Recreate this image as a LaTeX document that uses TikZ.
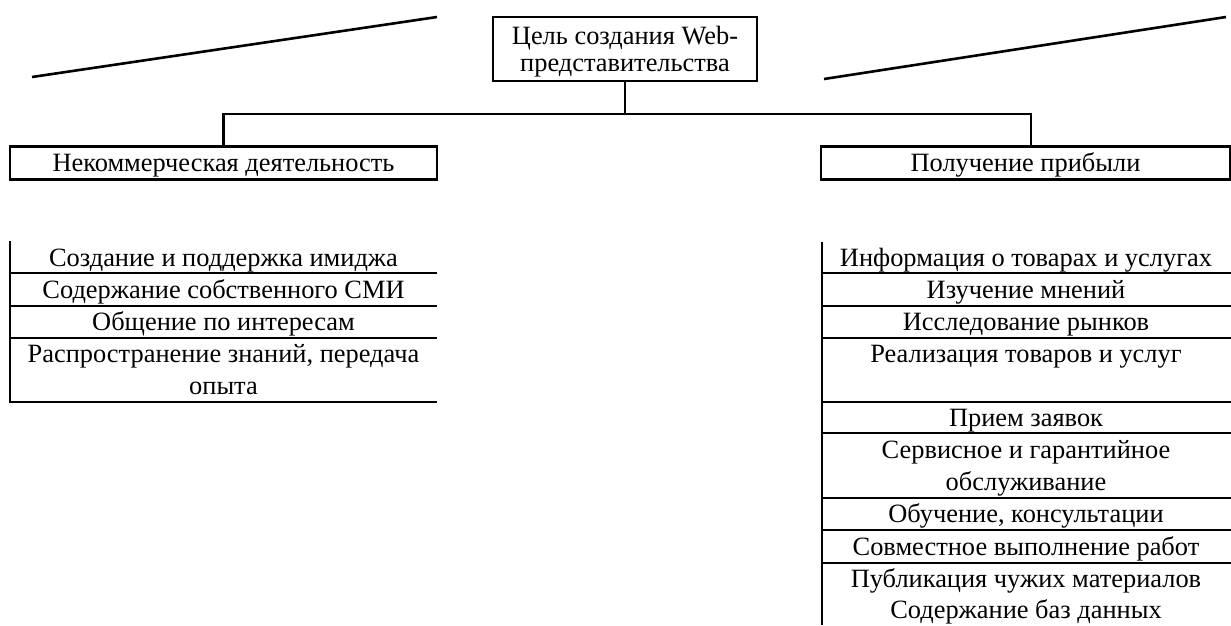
\documentclass[tikz,border=0pt]{standalone}
\usepackage{fontspec}
\setmainfont{Liberation Serif}
\begin{document}
\begin{tikzpicture}[x=1pt,y=-1pt,
  every node/.style={font=\fontsize{26.4}{32}\selectfont},
  box/.style={draw, line width=2.4pt, inner sep=0pt, anchor=center},
  txt/.style={inner sep=0pt, anchor=base},
  conn/.style={line width=2.4pt},
  sep/.style={line width=2.2pt},
  slant/.style={line width=2.6pt}]
\useasboundingbox[fill=white] (0,0) rectangle (1231,625);

% top box
\node[box, minimum width=264pt, minimum height=64pt, align=center,
      font=\fontsize{26.4}{27}\selectfont] (top) at (625,49) {};
\node[inner sep=0pt, align=center, font=\fontsize{26.4}{27}\selectfont] (toptxt) at (625,52)
  {Цель создания Web-\\представительства};

% level boxes
\node[box, minimum width=427pt, minimum height=33pt] (left) at (223.5,163) {};
\node[txt] (lefttxt) at (223.5,171) {Некоммерческая деятельность};
\node[box, minimum width=409pt, minimum height=33pt] (right) at (1025.5,163) {};
\node[txt] (righttxt) at (1025.5,171) {Получение прибыли};

% connectors
\coordinate (j) at (625,114);
\coordinate (rt) at (1031,146.5);
\draw[conn] (top.south) -- (j);
\draw[conn] (j) -| (left.north);
\draw[conn] (j) -| (rt);

% slanted lines
\coordinate (l1) at (32,77);
\coordinate (l2) at (437,17);
\coordinate (r1) at (824,79);
\coordinate (r2) at (1226,17);
\draw[slant] (l1) -- (l2);
\draw[slant] (r1) -- (r2);

% left list
\coordinate (lt) at (10,241);
\coordinate (lb) at (10,403);
\draw[sep] (lt) -- (lb);
\foreach \y in {273,306,338,402} \draw[sep] (10,\y) -- (437,\y);
\node[txt] (a1) at (223.5,266) {Создание и поддержка имиджа};
\node[txt] (a2) at (223.5,298) {Содержание собственного СМИ};
\node[txt] (a3) at (223.5,330) {Общение по интересам};
\node[txt] (a4) at (223.5,362) {Распространение знаний, передача};
\node[txt] (a5) at (223.5,394) {опыта};

% right list
\coordinate (rtp) at (822,242);
\coordinate (rbt) at (822,625);
\draw[sep] (rtp) -- (rbt);
\foreach \y in {273,306,338,402,433,498,530,563} \draw[sep] (822,\y) -- (1231,\y);
\node[txt] (b1) at (1026,266) {Информация о товарах и услугах};
\node[txt] (b2) at (1026,298) {Изучение мнений};
\node[txt] (b3) at (1026,330) {Исследование рынков};
\node[txt] (b4) at (1026,362) {Реализация товаров и услуг};
\node[txt] (b5) at (1026,426) {Прием заявок};
\node[txt] (b6) at (1026,458) {Сервисное и гарантийное};
\node[txt] (b7) at (1026,490) {обслуживание};
\node[txt] (b8) at (1026,522) {Обучение, консультации};
\node[txt] (b9) at (1026,555) {Совместное выполнение работ};
\node[txt] (b10) at (1026,587) {Публикация чужих материалов};
\node[txt] (b11) at (1026,618) {Содержание баз данных};
\end{tikzpicture}
\end{document}
